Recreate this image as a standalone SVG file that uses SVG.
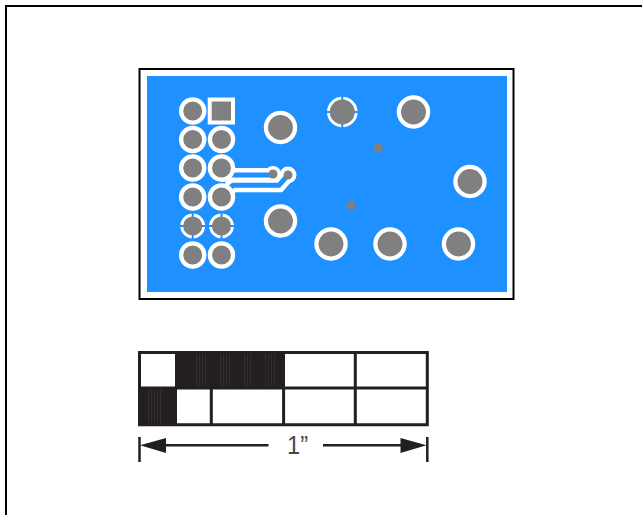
<svg xmlns="http://www.w3.org/2000/svg" width="642" height="515" viewBox="0 0 642 515">
<style>
.ln{fill:none;stroke:#231f20}
.p{fill:#808080;stroke:#fff;stroke-width:4.300}
.t{fill:#808080}
.r{fill:none;stroke:#fff;stroke-width:2.800}
.g{stroke:#1e90ff;stroke-width:2}
.tr{fill:none;stroke:#fff;stroke-width:14;stroke-linejoin:miter}
.tb{fill:none;stroke:#1e90ff;stroke-width:5;stroke-linejoin:miter}
.dark{fill:#231f20}
.st{fill:url(#stripes)}
</style>
<defs>
<pattern id="stripes" width="3" height="10" patternUnits="userSpaceOnUse"><rect x="1" width="1" height="10" fill="#322e2f"/></pattern>
<g id="thermal">
<circle class="t" r="10"/>
<circle class="r" r="11"/>
<path class="g" d="M-14 0H-9M9 0H14M0 -14V-9M0 9V14"/>
</g>
</defs>
<rect width="642" height="515" fill="#fff"/>
<path d="M6 515V6H642" fill="none" stroke="#000" stroke-width="2"/>
<g id="board">
<rect x="139.500" y="69" width="374" height="230" fill="#fff" stroke="#000" stroke-width="2"/>
<rect x="147" y="76" width="360" height="216" fill="#1e90ff"/>
</g>
<g id="connectors">
<path class="tr" d="M221 175H273M221 197L233 185.300H279L288 175"/>
<circle cx="288" cy="175" r="8.500" fill="#fff"/>
<circle cx="273" cy="174" r="8" fill="#fff"/>
<path class="tb" d="M221 175H273M221 197L233 185.300H279L288 175"/>
</g>
<g id="pads">
<circle class="p" cx="192.700" cy="111" r="11.600"/>
<rect x="209.700" y="99.500" width="23.300" height="23" fill="#808080" stroke="#fff" stroke-width="4"/>
<circle class="p" cx="192.700" cy="139.500" r="11.600"/>
<circle class="p" cx="221.500" cy="139.500" r="11.600"/>
<circle class="p" cx="192.700" cy="168" r="11.600"/>
<circle class="p" cx="221.500" cy="168" r="11.600"/>
<circle class="p" cx="192.700" cy="197" r="11.600"/>
<circle class="p" cx="221.500" cy="197" r="11.600"/>
<use href="#thermal" x="192.700" y="226"/>
<use href="#thermal" x="221.500" y="226"/>
<circle class="p" cx="192.700" cy="255" r="11.600"/>
<circle class="p" cx="221.500" cy="255" r="11.600"/>
<circle cx="273" cy="174" r="4.500" fill="#808080"/>
<circle cx="288" cy="175" r="4.500" fill="#808080"/>
<circle class="p" cx="280.500" cy="127.500" r="14.600"/>
<circle class="p" cx="280.500" cy="221" r="14.600"/>
<g transform="translate(342.300 112)"><circle class="t" r="13"/><circle class="r" r="13.900"/><path class="g" d="M-17 0H-12M12 0H17M0 -17V-12M0 12V17"/></g>
<circle class="p" cx="413.500" cy="112" r="14.600"/>
<circle class="p" cx="470" cy="181.500" r="14.600"/>
<circle class="p" cx="331" cy="244" r="14.600"/>
<circle class="p" cx="390" cy="244" r="14.600"/>
<circle class="p" cx="458.500" cy="244" r="14.600"/>
<circle class="t" cx="378.300" cy="148" r="4.500"/>
<circle class="t" cx="351" cy="205.500" r="4.500"/>
</g>
<g id="scale">
<rect class="dark" x="175" y="352" width="110" height="36"/>
<rect class="dark" x="139" y="388" width="37" height="36"/>
<rect class="st" x="195" y="353" width="13" height="34"/>
<rect class="st" x="218" y="353" width="12" height="34"/>
<rect class="st" x="242" y="353" width="11" height="34"/>
<rect class="st" x="263" y="353" width="14" height="34"/>
<rect class="st" x="148" y="389" width="14" height="34"/>
<path class="ln" stroke-width="3" d="M139.500 352.500H427.300V424.700H139.500ZM139 388H427M175.500 388V424M211.300 388V424M283.600 388V424M355.300 352V424"/>
<path class="ln" stroke-width="2.500" d="M139.500 437V462M427.300 437V462"/>
<path class="ln" stroke-width="2.500" d="M160 445.300H268.500M323 445.300H405"/>
<path class="dark" d="M140 445.300L166 438V453ZM426.500 445.300L400.500 438V453Z"/>
</g>
<text x="287" y="454" font-family="'Liberation Sans',Arial,sans-serif" font-size="26" textLength="21" lengthAdjust="spacingAndGlyphs" fill="#4a4748">1”</text>
</svg>
